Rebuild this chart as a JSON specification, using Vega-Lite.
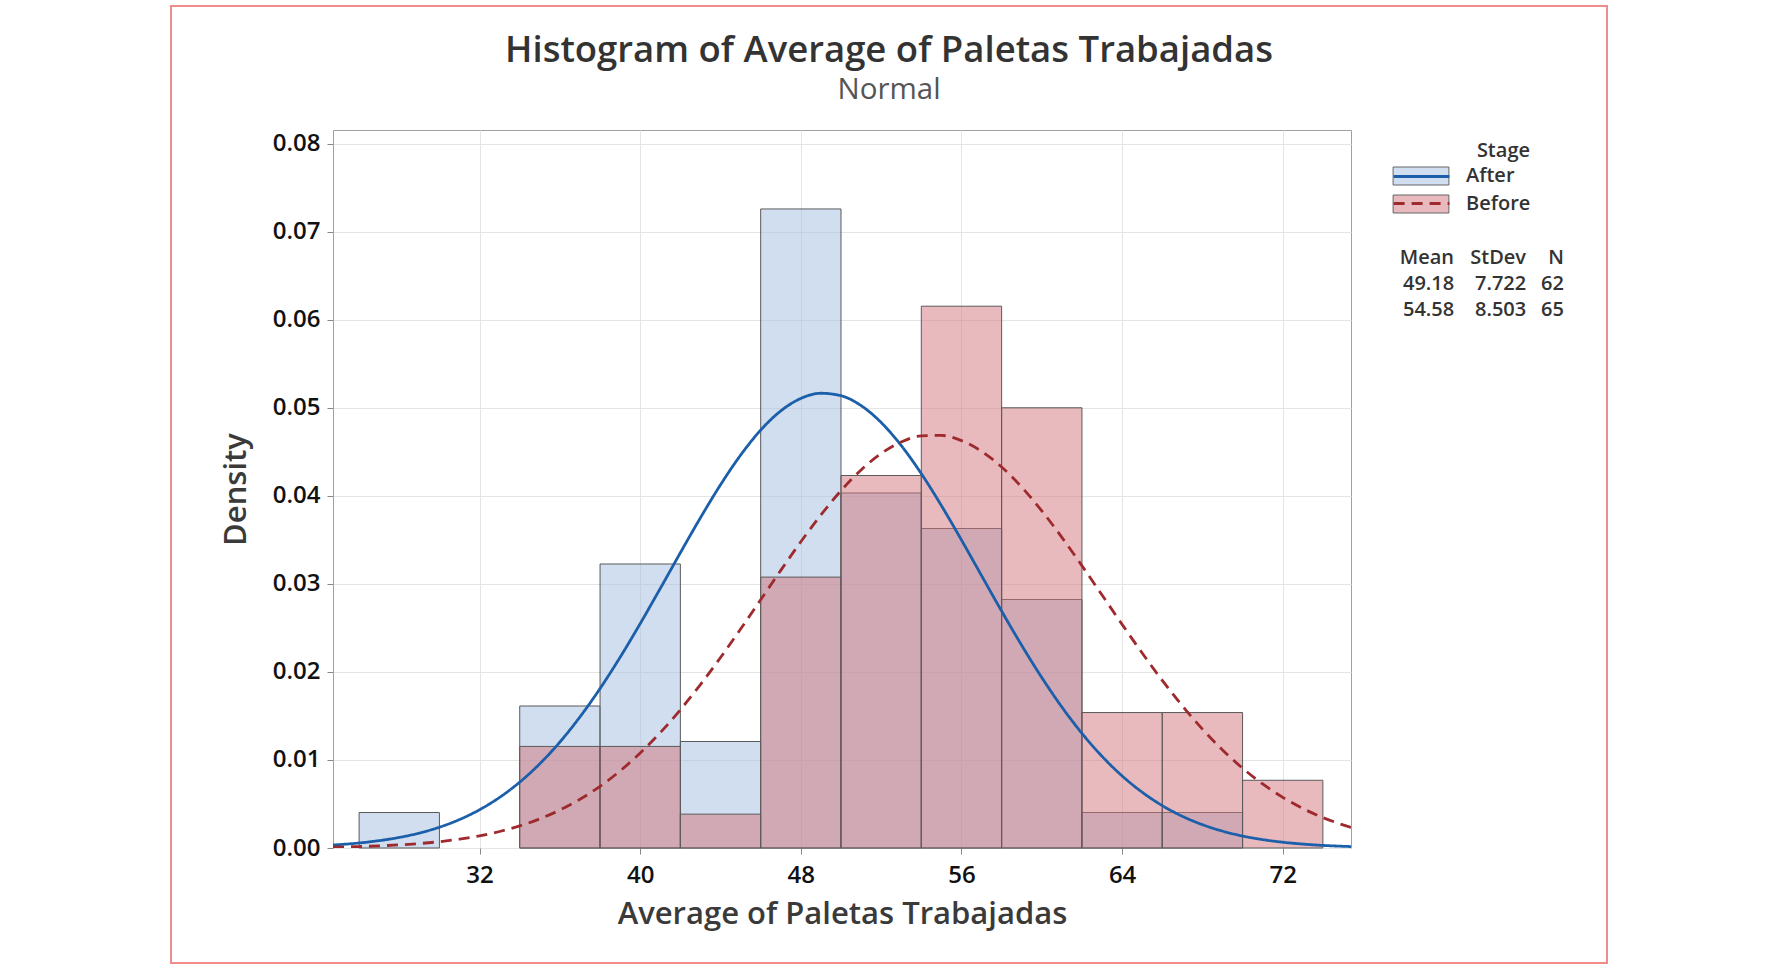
{
  "$schema": "https://vega.github.io/schema/vega-lite/v6.json",
  "width": 1018,
  "height": 718,
  "autosize": {"type": "none"},
  "padding": {"left": 333, "top": 130, "right": 430, "bottom": 121},
  "background": "white",
  "title": {
    "text": "Histogram of Average of Paletas Trabajadas",
    "subtitle": "Normal",
    "anchor": "middle",
    "dx": 47,
    "offset": -99,
    "font": "Open Sans",
    "fontSize": 36.5,
    "fontWeight": 600,
    "color": "#333333",
    "subtitleFont": "Open Sans",
    "subtitleFontSize": 29.5,
    "subtitleFontWeight": 400,
    "subtitleColor": "#555555",
    "subtitlePadding": 6
  },
  "datasets": {
    "bins": [
      {"stage": "After", "start": 26, "end": 30, "density": 0.004032},
      {"stage": "After", "start": 34, "end": 38, "density": 0.016129},
      {"stage": "After", "start": 38, "end": 42, "density": 0.032258},
      {"stage": "After", "start": 42, "end": 46, "density": 0.012097},
      {"stage": "After", "start": 46, "end": 50, "density": 0.072581},
      {"stage": "After", "start": 50, "end": 54, "density": 0.040323},
      {"stage": "After", "start": 54, "end": 58, "density": 0.03629},
      {"stage": "After", "start": 58, "end": 62, "density": 0.028226},
      {"stage": "After", "start": 62, "end": 66, "density": 0.004032},
      {"stage": "After", "start": 66, "end": 70, "density": 0.004032},
      {"stage": "Before", "start": 34, "end": 38, "density": 0.011538},
      {"stage": "Before", "start": 38, "end": 42, "density": 0.011538},
      {"stage": "Before", "start": 42, "end": 46, "density": 0.003846},
      {"stage": "Before", "start": 46, "end": 50, "density": 0.030769},
      {"stage": "Before", "start": 50, "end": 54, "density": 0.042308},
      {"stage": "Before", "start": 54, "end": 58, "density": 0.061538},
      {"stage": "Before", "start": 58, "end": 62, "density": 0.05},
      {"stage": "Before", "start": 62, "end": 66, "density": 0.015385},
      {"stage": "Before", "start": 66, "end": 70, "density": 0.015385},
      {"stage": "Before", "start": 70, "end": 74, "density": 0.007692}
    ],
    "curves": [
      {"stage": "After", "x": 24.7, "density": 0.00034},
      {"stage": "After", "x": 25, "density": 0.000384},
      {"stage": "After", "x": 26, "density": 0.000571},
      {"stage": "After", "x": 27, "density": 0.000835},
      {"stage": "After", "x": 28, "density": 0.001201},
      {"stage": "After", "x": 29, "density": 0.001699},
      {"stage": "After", "x": 30, "density": 0.002363},
      {"stage": "After", "x": 31, "density": 0.003232},
      {"stage": "After", "x": 32, "density": 0.004348},
      {"stage": "After", "x": 33, "density": 0.005753},
      {"stage": "After", "x": 34, "density": 0.007483},
      {"stage": "After", "x": 35, "density": 0.009571},
      {"stage": "After", "x": 36, "density": 0.012037},
      {"stage": "After", "x": 37, "density": 0.014892},
      {"stage": "After", "x": 38, "density": 0.018113},
      {"stage": "After", "x": 39, "density": 0.021666},
      {"stage": "After", "x": 40, "density": 0.025486},
      {"stage": "After", "x": 41, "density": 0.029479},
      {"stage": "After", "x": 42, "density": 0.033532},
      {"stage": "After", "x": 43, "density": 0.037508},
      {"stage": "After", "x": 44, "density": 0.041254},
      {"stage": "After", "x": 45, "density": 0.044623},
      {"stage": "After", "x": 46, "density": 0.047463},
      {"stage": "After", "x": 47, "density": 0.049645},
      {"stage": "After", "x": 48, "density": 0.051063},
      {"stage": "After", "x": 49, "density": 0.051649},
      {"stage": "After", "x": 50, "density": 0.051373},
      {"stage": "After", "x": 51, "density": 0.050248},
      {"stage": "After", "x": 52, "density": 0.04833},
      {"stage": "After", "x": 53, "density": 0.045713},
      {"stage": "After", "x": 54, "density": 0.042518},
      {"stage": "After", "x": 55, "density": 0.03889},
      {"stage": "After", "x": 56, "density": 0.034979},
      {"stage": "After", "x": 57, "density": 0.030938},
      {"stage": "After", "x": 58, "density": 0.026906},
      {"stage": "After", "x": 59, "density": 0.023015},
      {"stage": "After", "x": 60, "density": 0.019358},
      {"stage": "After", "x": 61, "density": 0.016011},
      {"stage": "After", "x": 62, "density": 0.013022},
      {"stage": "After", "x": 63, "density": 0.010415},
      {"stage": "After", "x": 64, "density": 0.008192},
      {"stage": "After", "x": 65, "density": 0.006336},
      {"stage": "After", "x": 66, "density": 0.004819},
      {"stage": "After", "x": 67, "density": 0.003604},
      {"stage": "After", "x": 68, "density": 0.002651},
      {"stage": "After", "x": 69, "density": 0.001917},
      {"stage": "After", "x": 70, "density": 0.001363},
      {"stage": "After", "x": 71, "density": 0.000954},
      {"stage": "After", "x": 72, "density": 0.000656},
      {"stage": "After", "x": 73, "density": 0.000444},
      {"stage": "After", "x": 74, "density": 0.000295},
      {"stage": "After", "x": 75, "density": 0.000193},
      {"stage": "After", "x": 75.4, "density": 0.000162},
      {"stage": "Before", "x": 24.7, "density": 0.000098},
      {"stage": "Before", "x": 25, "density": 0.00011},
      {"stage": "Before", "x": 26, "density": 0.000165},
      {"stage": "Before", "x": 27, "density": 0.000244},
      {"stage": "Before", "x": 28, "density": 0.000354},
      {"stage": "Before", "x": 29, "density": 0.000508},
      {"stage": "Before", "x": 30, "density": 0.000719},
      {"stage": "Before", "x": 31, "density": 0.001003},
      {"stage": "Before", "x": 32, "density": 0.00138},
      {"stage": "Before", "x": 33, "density": 0.001874},
      {"stage": "Before", "x": 34, "density": 0.002508},
      {"stage": "Before", "x": 35, "density": 0.003311},
      {"stage": "Before", "x": 36, "density": 0.00431},
      {"stage": "Before", "x": 37, "density": 0.005535},
      {"stage": "Before", "x": 38, "density": 0.00701},
      {"stage": "Before", "x": 39, "density": 0.008756},
      {"stage": "Before", "x": 40, "density": 0.010787},
      {"stage": "Before", "x": 41, "density": 0.013105},
      {"stage": "Before", "x": 42, "density": 0.015704},
      {"stage": "Before", "x": 43, "density": 0.018561},
      {"stage": "Before", "x": 44, "density": 0.021634},
      {"stage": "Before", "x": 45, "density": 0.024872},
      {"stage": "Before", "x": 46, "density": 0.0282},
      {"stage": "Before", "x": 47, "density": 0.031534},
      {"stage": "Before", "x": 48, "density": 0.034778},
      {"stage": "Before", "x": 49, "density": 0.037829},
      {"stage": "Before", "x": 50, "density": 0.040583},
      {"stage": "Before", "x": 51, "density": 0.042938},
      {"stage": "Before", "x": 52, "density": 0.044807},
      {"stage": "Before", "x": 53, "density": 0.046115},
      {"stage": "Before", "x": 54, "density": 0.046809},
      {"stage": "Before", "x": 55, "density": 0.046861},
      {"stage": "Before", "x": 56, "density": 0.046268},
      {"stage": "Before", "x": 57, "density": 0.045056},
      {"stage": "Before", "x": 58, "density": 0.043273},
      {"stage": "Before", "x": 59, "density": 0.040989},
      {"stage": "Before", "x": 60, "density": 0.038292},
      {"stage": "Before", "x": 61, "density": 0.035282},
      {"stage": "Before", "x": 62, "density": 0.032061},
      {"stage": "Before", "x": 63, "density": 0.028735},
      {"stage": "Before", "x": 64, "density": 0.0254},
      {"stage": "Before", "x": 65, "density": 0.022144},
      {"stage": "Before", "x": 66, "density": 0.019039},
      {"stage": "Before", "x": 67, "density": 0.016145},
      {"stage": "Before", "x": 68, "density": 0.013503},
      {"stage": "Before", "x": 69, "density": 0.011137},
      {"stage": "Before", "x": 70, "density": 0.009062},
      {"stage": "Before", "x": 71, "density": 0.007271},
      {"stage": "Before", "x": 72, "density": 0.005754},
      {"stage": "Before", "x": 73, "density": 0.00449},
      {"stage": "Before", "x": 74, "density": 0.003457},
      {"stage": "Before", "x": 75, "density": 0.002624},
      {"stage": "Before", "x": 75.4, "density": 0.002341}
    ],
    "stats": [
      {"stage": "After", "Mean": 49.18, "StDev": 7.722, "N": 62},
      {"stage": "Before", "Mean": 54.58, "StDev": 8.503, "N": 65}
    ]
  },
  "layer": [
    {
      "data": {"name": "bins"},
      "mark": {"type": "bar", "stroke": "#5a5a5a", "strokeWidth": 1},
      "encoding": {
        "x": {
          "field": "start", "type": "quantitative",
          "scale": {"domain": [24.7, 75.4], "nice": false, "zero": false},
          "axis": {
            "values": [32, 40, 48, 56, 64, 72],
            "title": "Average of Paletas Trabajadas",
            "labelPadding": 9,
            "titlePadding": 12
          }
        },
        "x2": {"field": "end"},
        "y": {
          "field": "density", "type": "quantitative", "stack": null,
          "scale": {"domain": [0, 0.08155], "nice": false},
          "axis": {
            "values": [0, 0.01, 0.02, 0.03, 0.04, 0.05, 0.06, 0.07, 0.08],
            "format": ".2f",
            "title": "Density",
            "labelPadding": 7,
            "titlePadding": 20
          }
        },
        "y2": {"datum": 0},
        "fill": {
          "field": "stage", "type": "nominal",
          "scale": {"range": ["rgba(161,189,223,0.5)", "rgba(209,115,123,0.5)"]},
          "legend": {
            "orient": "none", "legendX": 1078, "legendY": 11,
            "title": "Stage", "titleAnchor": "end",
            "titleFont": "Open Sans", "titleFontSize": 20, "titleFontWeight": 600, "titleColor": "#333333",
            "titlePadding": 5,
            "labelFont": "Open Sans", "labelFontSize": 20, "labelFontWeight": 600, "labelColor": "#333333",
            "labelOffset": 35,
            "symbolType": "M-3.1,-1H3.1V1H-3.1Z", "symbolSize": 324,
            "symbolStrokeColor": "#666666", "symbolStrokeWidth": 1,
            "rowPadding": 6, "padding": 0
          }
        }
      }
    },
    {
      "data": {"name": "curves"},
      "mark": {"type": "line", "strokeWidth": 2.8, "interpolate": "monotone", "clip": true},
      "encoding": {
        "x": {"field": "x", "type": "quantitative"},
        "y": {"field": "density", "type": "quantitative"},
        "stroke": {
          "field": "stage", "type": "nominal",
          "scale": {"range": ["#1b5ea9", "#9e2a2d"]},
          "legend": {
            "orient": "none", "legendX": 1078, "legendY": 11,
            "title": "Stage", "titleAnchor": "end",
            "titleFont": "Open Sans", "titleFontSize": 20, "titleFontWeight": 600, "titleOpacity": 0,
            "titlePadding": 5,
            "labelFont": "Open Sans", "labelFontSize": 20, "labelFontWeight": 600, "labelOpacity": 0,
            "labelOffset": 35,
            "symbolType": "M-3.1,0H3.1", "symbolSize": 324, "symbolStrokeWidth": 2.8,
            "rowPadding": 6, "padding": 0
          }
        },
        "strokeDash": {
          "field": "stage", "type": "nominal",
          "scale": {"range": [[1, 0], [11, 7]]},
          "legend": {
            "orient": "none", "legendX": 1078, "legendY": 11,
            "title": "Stage", "titleAnchor": "end",
            "titleFont": "Open Sans", "titleFontSize": 20, "titleFontWeight": 600, "titleOpacity": 0,
            "titlePadding": 5,
            "labelFont": "Open Sans", "labelFontSize": 20, "labelFontWeight": 600, "labelOpacity": 0,
            "labelOffset": 35,
            "symbolType": "M-3.1,0H3.1", "symbolSize": 324, "symbolStrokeWidth": 2.8,
            "rowPadding": 6, "padding": 0
          }
        }
      }
    },
    {
      "data": {"name": "stats"},
      "mark": {"type": "point", "filled": true, "fillOpacity": 0, "strokeOpacity": 0},
      "encoding": {
        "size": {
          "field": "Mean", "type": "ordinal",
          "scale": {"range": [4, 4]},
          "legend": {
            "orient": "none", "legendX": 1050, "legendY": 118,
            "title": "Mean", "titleAnchor": "end",
            "titleFont": "Open Sans", "titleFontSize": 20, "titleFontWeight": 600, "titleColor": "#333333",
            "titlePadding": 6,
            "labelFont": "Open Sans", "labelFontSize": 20, "labelFontWeight": 600, "labelColor": "#333333",
            "labelOffset": 0, "rowPadding": 6, "padding": 0,
            "symbolType": "M0,0", "symbolOpacity": 0, "symbolStrokeWidth": 0,
            "encode": {"symbols": {"update": {"opacity": {"value": 0}}}}
          }
        },
        "opacity": {
          "field": "StDev", "type": "ordinal",
          "legend": {
            "orient": "none", "legendX": 1122, "legendY": 118,
            "title": "StDev", "titleAnchor": "end",
            "titleFont": "Open Sans", "titleFontSize": 20, "titleFontWeight": 600, "titleColor": "#333333",
            "titlePadding": 6,
            "labelFont": "Open Sans", "labelFontSize": 20, "labelFontWeight": 600, "labelColor": "#333333",
            "labelOffset": 0, "rowPadding": 6, "padding": 0, "symbolSize": 4,
            "symbolType": "M0,0", "symbolOpacity": 0, "symbolStrokeWidth": 0,
            "encode": {"symbols": {"update": {"opacity": {"value": 0}}}}
          }
        },
        "shape": {
          "field": "N", "type": "nominal",
          "legend": {
            "orient": "none", "legendX": 1188, "legendY": 118,
            "title": "N", "titleAnchor": "end",
            "titleFont": "Open Sans", "titleFontSize": 20, "titleFontWeight": 600, "titleColor": "#333333",
            "titlePadding": 6,
            "labelFont": "Open Sans", "labelFontSize": 20, "labelFontWeight": 600, "labelColor": "#333333",
            "labelOffset": 0, "rowPadding": 6, "padding": 0, "symbolSize": 4,
            "symbolType": "M0,0", "symbolOpacity": 0, "symbolStrokeWidth": 0,
            "encode": {"symbols": {"update": {"opacity": {"value": 0}}}}
          }
        }
      }
    },
    {
      "data": {"name": "bins"},
      "mark": {"type": "point", "filled": true, "fillOpacity": 0, "strokeOpacity": 0},
      "encoding": {
        "color": {
          "field": "density", "type": "quantitative",
          "legend": {
            "orient": "none", "legendX": -162, "legendY": -124,
            "direction": "horizontal", "title": null,
            "gradientLength": 1436, "gradientThickness": 957,
            "gradientOpacity": 0, "gradientStrokeWidth": 0,
            "labelFontSize": 0, "labelOffset": 0, "labelOpacity": 0,
            "padding": 0,
            "encode": {"legend": {"update": {"stroke": {"value": "#f08c8c"}, "strokeWidth": {"value": 2}}}}
          }
        }
      }
    }
  ],
  "config": {
    "view": {"stroke": "#a0a0a0", "strokeWidth": 1},
    "axis": {
      "labelFont": "Open Sans", "labelFontSize": 24, "labelFontWeight": 600, "labelColor": "#111111",
      "titleFont": "Open Sans", "titleFontSize": 31, "titleFontWeight": 600, "titleColor": "#3a3a3a",
      "gridColor": "#e4e4e4", "gridWidth": 1,
      "tickColor": "#888888", "tickSize": 6,
      "domain": false
    }
  }
}
